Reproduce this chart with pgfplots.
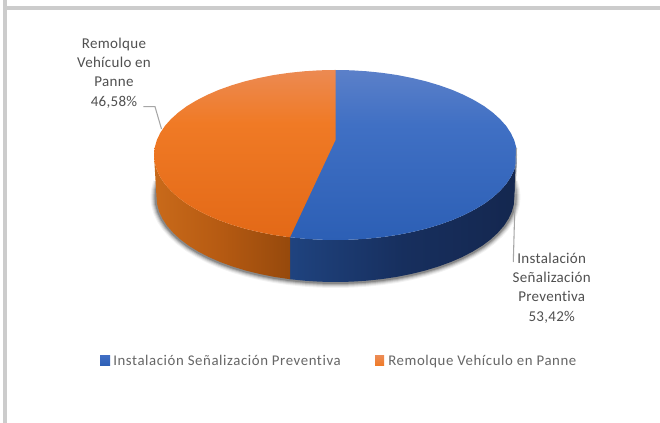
\documentclass[border=0pt]{standalone}
\usepackage{fontspec}
\setmainfont{Carlito}
\newfontfamily\legendfont[LetterSpace=4,Ligatures=NoCommon]{Carlito}
\newfontfamily\labelfont[LetterSpace=2,Ligatures=NoCommon]{Carlito}
\usepackage{pgfplots}
\usepackage{pgfplotstable}
\pgfplotsset{compat=1.18}

\definecolor{framegray}{HTML}{CCCCCC}
\definecolor{leader}{HTML}{A6A6A6}
\definecolor{labeltxt}{HTML}{505050}
\definecolor{legendtxt}{HTML}{666666}
\definecolor{blue1}{HTML}{1F437F}
\definecolor{blue2}{HTML}{172F5E}
\definecolor{blue3}{HTML}{14274F}
\definecolor{orange1}{HTML}{C96A1A}
\definecolor{orange2}{HTML}{B55A12}
\definecolor{orange3}{HTML}{96490C}
\definecolor{bluemid}{HTML}{3F6DC3}
\definecolor{bluebot}{HTML}{2C5FB5}
\definecolor{orangetop}{HTML}{EC8A52}
\definecolor{orangemid}{HTML}{F07A25}

% the light part of the faces stops above the middle of the pie
\pgfdeclareverticalshading{blueface}{100bp}{
    rgb(0bp)=(0.173,0.373,0.710); rgb(25bp)=(0.173,0.373,0.710);
    rgb(59bp)=(0.251,0.439,0.769);
    rgb(75bp)=(0.357,0.502,0.788); rgb(100bp)=(0.357,0.502,0.788)}
\pgfdeclareverticalshading{orangeface}{100bp}{
    rgb(0bp)=(0.890,0.412,0.090); rgb(25bp)=(0.890,0.412,0.090);
    rgb(59bp)=(0.941,0.478,0.145);
    rgb(75bp)=(0.925,0.541,0.322); rgb(100bp)=(0.925,0.541,0.322)}

% lower rim of the pie, in pixels of the reference (used for the shadow)
\pgfplotstableread{
x y
511.8 182.2
513.8 189.6
514.5 197
513.8 204.4
511.8 211.8
508.4 219
503.7 226.1
497.7 232.9
490.5 239.5
482.1 245.8
472.6 251.6
462.1 257.1
450.6 262.1
438.2 266.6
425.0 270.6
411.2 274
396.7 276.9
381.8 279.1
366.6 280.7
351.1 281.7
335.5 282
319.9 281.7
304.4 280.7
289.2 279.1
274.3 276.9
259.8 274
246.0 270.6
232.8 266.6
220.4 262.1
208.9 257.1
198.4 251.6
188.9 245.8
180.5 239.5
173.3 232.9
167.3 226.1
162.6 219
159.2 211.8
157.2 204.4
156.5 197
157.2 189.6
159.2 182.2
}\rimlow

\begin{document}
\begin{tikzpicture}
\begin{axis}[
    scale only axis,
    width=495pt,
    height=317.25pt,
    xmin=0, xmax=660,
    ymin=0, ymax=423,
    y dir=reverse,
    hide axis,
]
% background and the grey frame
\addplot[fill=white, draw=none] coordinates {(0,0) (660,0) (660,423) (0,423)};
\addplot[fill=framegray, draw=none] coordinates {(3,0) (7,0) (7,423) (3,423)};
\addplot[fill=framegray, draw=none] coordinates {(7,6) (660,6) (660,10.5) (7,10.5)};

% shadow under the pie
\addplot[draw=black, opacity=0.05, line width=9pt, line join=round] table {\rimlow};
\addplot[draw=black, opacity=0.07, line width=7.5pt, line join=round] table {\rimlow};
\addplot[draw=black, opacity=0.10, line width=6pt, line join=round] table {\rimlow};
\addplot[draw=black, opacity=0.14, line width=4.5pt, line join=round] table {\rimlow};
\addplot[draw=black, opacity=0.20, line width=3pt, line join=round] table {\rimlow};

% side, blue
\addplot[draw=none, shade, left color=blue1, right color=blue3, middle color=blue2] coordinates {
    (517,155) (516.3,162.4) (514.2,169.8) (510.8,177) (506.1,184.1) (500,190.9) (492.7,197.5) (484.2,203.8)
    (474.5,209.6) (463.8,215.1) (452.2,220.1) (439.6,224.6) (426.3,228.6) (412.2,232) (397.6,234.9)
    (382.5,237.1) (367,238.7) (351.3,239.7) (335.5,240) (319.7,239.7) (304,238.7) (289,237.1)
    (289,279.1) (304.4,280.7) (319.9,281.7) (335.5,282) (351.1,281.7) (366.6,280.7) (381.8,279.1)
    (396.7,276.9) (411.2,274) (425,270.6) (438.2,266.6) (450.6,262.1) (462.1,257.1) (472.6,251.6)
    (482.1,245.8) (490.5,239.5) (497.7,232.9) (503.7,226.1) (508.4,219) (511.8,211.8) (513.8,204.4) (514.5,197)
};
% side, orange
\addplot[draw=none, shade, left color=orange1, right color=orange3, middle color=orange2] coordinates {
    (290,237.3) (273.4,234.9) (258.8,232) (244.7,228.6) (231.4,224.6) (218.8,220.1) (207.2,215.1)
    (196.5,209.6) (186.8,203.8) (178.3,197.5) (171,190.9) (164.9,184.1) (160.2,177) (156.8,169.8)
    (154.7,162.4) (154,155)
    (156.5,197) (157.2,204.4) (159.2,211.8) (162.6,219) (167.3,226.1) (173.3,232.9) (180.5,239.5)
    (188.9,245.8) (198.4,251.6) (208.9,257.1) (220.4,262.1) (232.8,266.6) (246,270.6) (259.8,274)
    (274.3,276.9) (290,279.2)
};
% top, blue (runs 1 px under the orange so that no seam shows)
\addplot[draw=none, shading=blueface] coordinates {
    (334.5,70) (351.3,70.3) (367,71.3) (382.5,72.9) (397.6,75.1) (412.2,78) (426.3,81.4) (439.6,85.4)
    (452.2,89.9) (463.8,94.9) (474.5,100.4) (484.2,106.2) (492.7,112.5) (500,119.1) (506.1,125.9)
    (510.8,133) (514.2,140.2) (516.3,147.6) (517,155) (516.3,162.4) (514.2,169.8) (510.8,177) (506.1,184.1)
    (500,190.9) (492.7,197.5) (484.2,203.8) (474.5,209.6) (463.8,215.1) (452.2,220.1) (439.6,224.6)
    (426.3,228.6) (412.2,232) (397.6,234.9) (382.5,237.1) (367,238.7) (351.3,239.7) (335.5,240)
    (319.7,239.7) (304,238.7) (289,237.1) (334.5,140)
};
% top, orange
\addplot[draw=none, shading=orangeface] coordinates {
    (335.5,140) (290,237.3) (273.4,234.9) (258.8,232) (244.7,228.6) (231.4,224.6) (218.8,220.1) (207.2,215.1)
    (196.5,209.6) (186.8,203.8) (178.3,197.5) (171,190.9) (164.9,184.1) (160.2,177) (156.8,169.8)
    (154.7,162.4) (154,155) (154.7,147.6) (156.8,140.2) (160.2,133) (164.9,125.9) (171,119.1) (178.3,112.5)
    (186.8,106.2) (196.5,100.4) (207.2,94.9) (218.8,89.9) (231.4,85.4) (244.7,81.4) (258.8,78) (273.4,75.1)
    (288.5,72.9) (304,71.3) (319.7,70.3) (335.5,70)
};

% leader lines
\addplot[draw=leader, line width=0.8pt] coordinates {(143.3,106.7) (155,106.7) (161.5,129)};
\addplot[draw=leader, line width=0.8pt] coordinates {(516.5,148) (513.3,262)};

% data labels
\node[text=labeltxt, align=center, font=\labelfont\fontsize{11.25}{14.6}\selectfont, anchor=center]
    at (axis cs:114,73) {Remolque\\Vehículo en\\Panne\\46,58\%};
\node[text=labeltxt, align=center, font=\labelfont\fontsize{11.25}{14.6}\selectfont, anchor=center]
    at (axis cs:551.7,288) {Instalación\\Señalización\\Preventiva\\53,42\%};

% legend
\addplot[draw=none, shade, top color=bluemid, bottom color=bluebot] coordinates {(100,356) (110,356) (110,366) (100,366)};
\addplot[draw=none, shade, top color=orangetop, bottom color=orangemid] coordinates {(375,356) (384,356) (384,366) (375,366)};
\node[text=legendtxt, anchor=base west, inner sep=0pt, font=\legendfont\fontsize{11.1}{12}\selectfont]
    at (axis cs:113,365.5) {Instalación Señalización Preventiva};
\node[text=legendtxt, anchor=base west, inner sep=0pt, font=\legendfont\fontsize{11.1}{12}\selectfont]
    at (axis cs:388,365.5) {Remolque Vehículo en Panne};
\end{axis}
\end{tikzpicture}
\end{document}
